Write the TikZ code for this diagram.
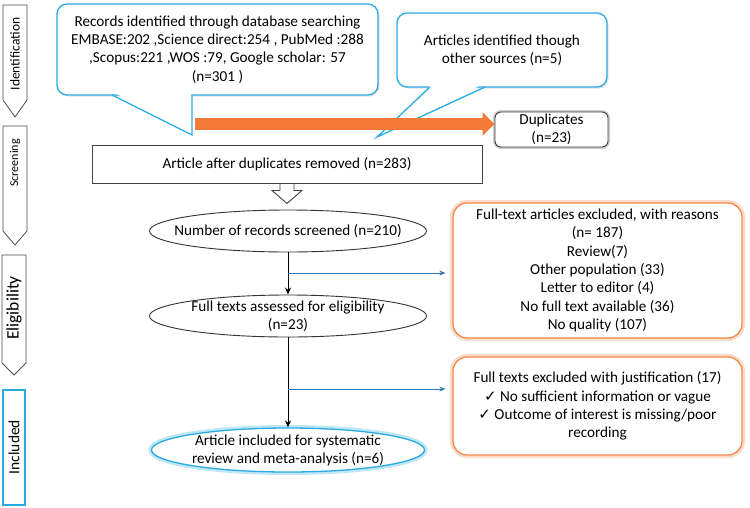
\documentclass[tikz,border=0pt]{standalone}
\usepackage{fontspec}
\setmainfont{Carlito}
\newfontfamily\symfont{DejaVu Sans}
\usetikzlibrary{arrows.meta,shapes.geometric,shadows,calc}
\definecolor{cyanb}{HTML}{29ABE2}
\definecolor{orangea}{HTML}{F47A38}
\definecolor{orangeb}{HTML}{F5894A}
\definecolor{bluea}{HTML}{2E75B6}
\newcommand\ctext[1]{\makebox[0pt]{\raisebox{-0.3em}[0pt][0pt]{\begin{tabular}{@{}c@{}}#1\end{tabular}}}}
\begin{document}
\begin{tikzpicture}[x=1pt,y=-1pt,
  font=\fontsize{15.2}{18.3}\selectfont,
  cbox/.style={draw=cyanb, line width=1.3pt, fill=white, rounded corners=10pt,
    align=center, inner sep=0pt,
    drop shadow={opacity=0.22, shadow xshift=1.5pt, shadow yshift=-1.5pt}},
  stage/.style={draw=black!70, line width=0.8pt, fill=white},
  ellbox/.style={ellipse, draw=black!80, line width=0.9pt, fill=white,
    minimum width=277pt, minimum height=42pt, inner sep=0pt},
  exbox/.style={draw=orangeb, line width=1.3pt, fill=white, rounded corners=14pt,
    minimum width=289pt, align=center, inner sep=0pt,
    preaction={draw=orangeb!30, line width=6pt}},
  plainbox/.style={draw=black!75, line width=0.9pt, fill=white, align=center, inner sep=0pt},
  barrow/.style={draw=bluea, line width=1pt, -{Stealth[length=6pt,width=5pt]}},
  karrow/.style={draw=black, line width=1pt, -{Stealth[length=7pt,width=6pt]}}
]
\useasboundingbox (0,0) rectangle (750,507);
\fill[white] (0,0) rectangle (750,507);

% stage labels
\draw[stage] (3,5) -- (27,5) -- (27,100) -- (15,117) -- (3,100) -- cycle;
\node[rotate=90, font=\fontsize{13.5}{16}\selectfont] (sid) at (15,54) {Identification};
\draw[stage] (3,126) -- (27,126) -- (27,231) -- (15,245) -- (3,231) -- cycle;
\node[rotate=90, font=\fontsize{12}{14}\selectfont] (sscr) at (15,163) {Screening};
\draw[stage] (2,255) -- (26,255) -- (26,363) -- (14,375) -- (2,363) -- cycle;
\node[rotate=90, font=\fontsize{17.5}{20}\selectfont] (selig) at (14,308) {Eligibility};
\draw[draw=cyanb, line width=1.2pt, fill=white] (3,390) rectangle (25,505);
\node[rotate=90, font=\fontsize{15.5}{18}\selectfont] (sinc) at (14,447) {Included};

% callout 1
\node[cbox, minimum width=321pt, minimum height=91pt] (c1) at (217.5,49.5)
  {Records identified through database searching\\
   EMBASE:202 ,Science direct:254 , PubMed :288\\
   ,Scopus:221 ,WOS :79, Google scholar: 57\\
   (n=301 )};
\fill[white] (113,92) -- (191.3,92) -- (191.3,134) -- cycle;
\draw[cyanb, line width=1.3pt, line join=miter] (112,95) -- (192,135) -- (192,95);

% callout 2
\node[cbox, minimum width=210pt, minimum height=74pt] (c2) at (502,50)
  {Articles identified though\\other sources (n=5)};
\fill[white] (432,84) -- (483,84) -- (379,135) -- cycle;
\draw[cyanb, line width=1.3pt, line join=miter] (430,87) -- (377,137) -- (485,87);

% duplicates
\node[plainbox, rounded corners=6pt, minimum width=113pt, minimum height=35pt,
  preaction={draw=black!20, line width=4pt}] (dup) at (551.5,129.5) {Duplicates\\(n=23)};

% orange arrow
\coordinate (oa) at (195,124);
\draw[orangea, line width=12pt, -{Triangle[width=23pt,length=12pt]}] (oa) -- (oa -| dup.west);

% article after duplicates
\node[plainbox, minimum width=390pt, minimum height=38pt] (adr) at (287,164)
  {Article after duplicates removed (n=283)};

% ellipses
\node[ellbox] (e1) at (288,231) {\ctext{Number of records screened (n=210)}};
\node[ellbox] (e2) at (288,316) {\ctext{Full texts assessed for eligibility\\(n=23)}};
\node[ellbox, draw=cyanb, line width=1.3pt, minimum width=273pt, minimum height=44pt,
  preaction={draw=cyanb!30, line width=6pt}] (e3) at (288,450)
  {\ctext{Article included for systematic\\review and meta-analysis (n=6)}};

% hollow arrow
\draw[draw=black!75, line width=0.9pt, fill=white, line join=miter]
  ($(adr.south)+(-7,0)$) -- ++(14,0) -- ++(0,7) -- ++(8,0) -- ++(-15,13)
  -- ++(-15,-13) -- ++(8,0) -- cycle;

% exclusion boxes
\node[exbox, minimum height=135pt] (ex1) at (597.5,270.5)
  {Full-text articles excluded, with reasons\\(n= 187)\\Review(7)\\Other population (33)\\
   Letter to editor (4)\\No full text available (36)\\No quality (107)};
\node[exbox, minimum height=98pt] (ex2) at (597.5,406)
  {Full texts excluded with justification (17)\\
   {\symfont\fontsize{15}{18.3}\selectfont ✓} No sufficient information or vague\\
   {\symfont\fontsize{15}{18.3}\selectfont ✓} Outcome of interest is missing/poor\\
   recording};

% connectors
\draw[karrow] (e1.south) -- (e2.north);
\draw[karrow] (e2.south) -- (e3.north);
\coordinate (j1) at (288,273);
\coordinate (j2) at (288,389);
\draw[barrow, shorten >=7pt] (j1) -- (j1 -| ex1.west);
\draw[barrow, shorten >=7pt] (j2) -- (j2 -| ex2.west);
\end{tikzpicture}
\end{document}
